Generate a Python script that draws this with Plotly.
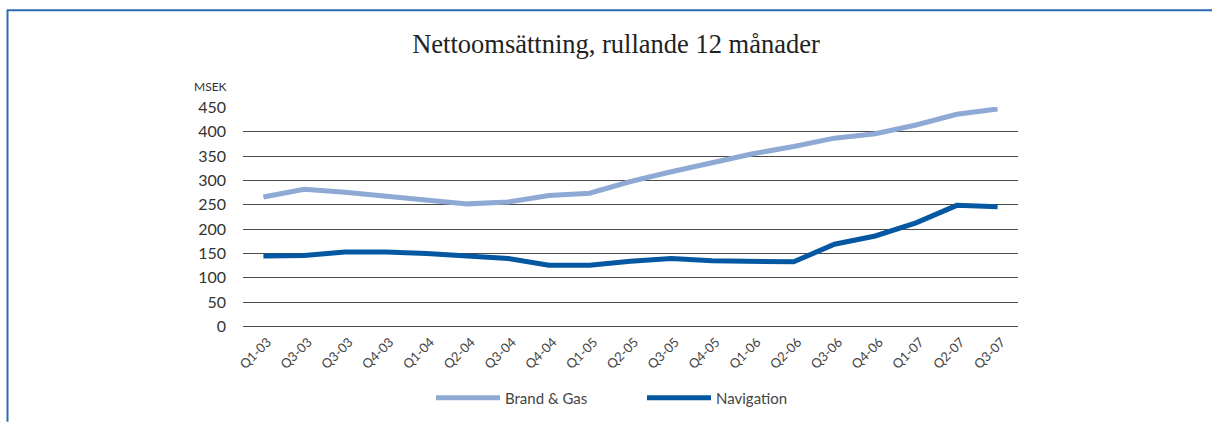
import plotly.graph_objects as go

quarters = ["Q1-03", "Q3-03", "Q3-03", "Q4-03", "Q1-04", "Q2-04", "Q3-04", "Q4-04", "Q1-05",
            "Q2-05", "Q3-05", "Q4-05", "Q1-06", "Q2-06", "Q3-06", "Q4-06", "Q1-07", "Q2-07", "Q3-07"]
brand_gas = [266, 282, 276, 268, 259, 252, 256, 269, 274, 298, 318, 336, 355, 370, 387, 396, 414, 436, 447]
navigation = [145, 146, 153, 153, 150, 146, 140, 126, 126, 134, 140, 135, 135, 133, 169, 186, 213, 249, 246]
y_ticks = [0, 50, 100, 150, 200, 250, 300, 350, 400, 450]

idx = list(range(len(quarters)))

fig = go.Figure()
fig.add_trace(go.Scatter(x=idx, y=brand_gas, mode="lines", name="Brand & Gas",
                         line=dict(color="#8FA9D5", width=5)))
fig.add_trace(go.Scatter(x=idx, y=navigation, mode="lines", name="Navigation",
                         line=dict(color="#0458A2", width=5)))

L, R, T, B = 243, 194, 106.5, 94
W, H = 1212, 422
pw = W - L - R
ph = H - T - B

def px_x(px):
    return (px - L) / pw

def px_y(py):
    return (H - B - py) / ph

fig.update_layout(
    width=W, height=H,
    margin=dict(l=L, r=R, t=T, b=B, autoexpand=False),
    paper_bgcolor="white", plot_bgcolor="white",
    font=dict(family="Lato, sans-serif", color="#3a3a3a"),
    title=dict(text="Nettoomsättning, rullande 12 månader",
               font=dict(family="Liberation Serif, serif", size=26.5, color="#222"),
               x=616 / W, xanchor="center", y=1 - 44 / H, yanchor="middle"),
    xaxis=dict(range=[-0.5, len(quarters) - 0.5], tickmode="array", tickvals=idx,
               ticktext=quarters, tickangle=-45, showgrid=False, zeroline=False,
               showline=False, tickfont=dict(size=13, color="#444"), ticks="",
               ticklabelstandoff=3, ticklabelshift=4, automargin=False),
    yaxis=dict(range=[-3, 451], tickmode="array", tickvals=y_ticks,
               showgrid=True, gridcolor="#4a4a4a", gridwidth=1, zeroline=False,
               showline=False, ticks="", ticklabelstandoff=16, automargin=False,
               tickfont=dict(size=16, color="#333")),
    showlegend=True,
    legend=dict(orientation="h", xref="container", x=431 / W, xanchor="left",
                yref="container", y=1 - 398 / H, yanchor="middle",
                font=dict(size=15, color="#444"), itemwidth=64, bgcolor="rgba(0,0,0,0)",
                traceorder="normal", entrywidth=132),
)

fig.add_annotation(text="MSEK", xref="paper", yref="paper", x=px_x(229), y=px_y(86),
                   xanchor="right", yanchor="middle", showarrow=False,
                   font=dict(size=12, color="#333"))

# frame lines
fig.add_shape(type="line", xref="paper", yref="paper",
              x0=px_x(7), x1=px_x(W), y0=px_y(9.5), y1=px_y(9.5),
              line=dict(color="#2D6AB0", width=2))
fig.add_shape(type="line", xref="paper", yref="paper",
              x0=px_x(7.5), x1=px_x(7.5), y0=px_y(9), y1=px_y(H),
              line=dict(color="#2D6AB0", width=2))

fig.write_html("out.html", config={"displayModeBar": False},
               post_script="document.body.style.margin='0';")
